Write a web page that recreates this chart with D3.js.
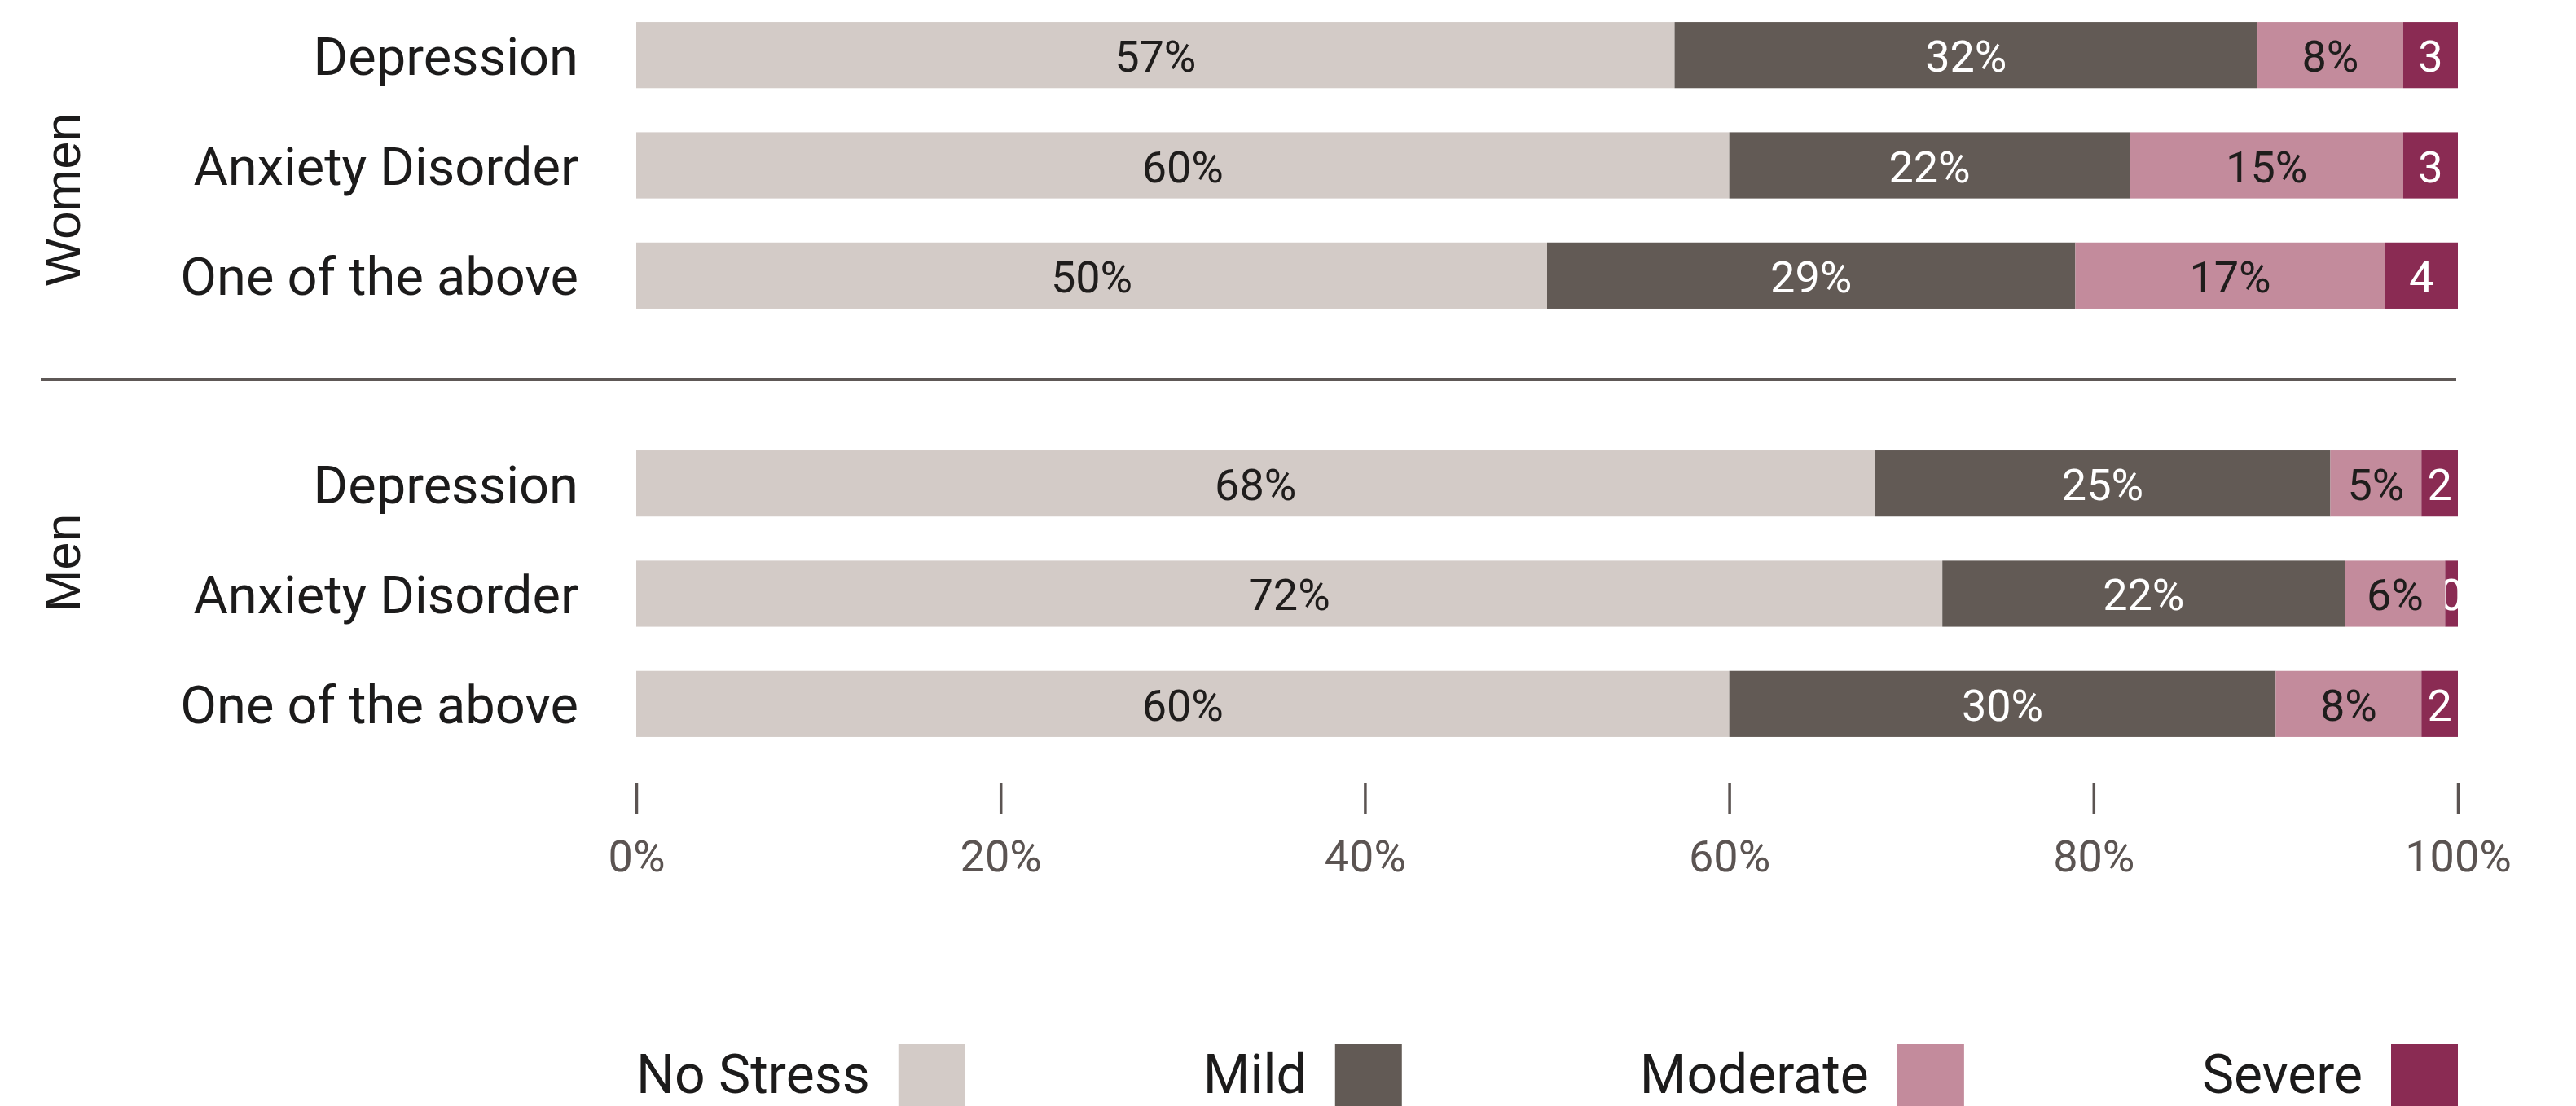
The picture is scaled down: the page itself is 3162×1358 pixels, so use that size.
<!DOCTYPE html>
<html>
<head>
<meta charset="utf-8">
<script src="https://cdn.jsdelivr.net/npm/d3@7"></script>
<style>
  html, body { margin: 0; padding: 0; background: #fff; }
  svg { display: block; }
</style>
</head>
<body>
<div id="chart"></div>
<script>
const groups = ['Women', 'Men']
const conditions = ['Depression', 'Anxiety Disorder', 'One of the above']
const levels = ['No Stress', 'Mild', 'Moderate', 'Severe']

// one value per row: Women x3, then Men x3
const noStress = [57, 60, 50, 68, 71.7, 60]
const mild = [32, 22, 29, 25, 22.1, 30]
const moderate = [8, 15, 17, 5, 5.5, 8]
const severe = [3, 3, 4, 2, 0.7, 2]

const tickValues = [0, 20, 40, 60, 80, 100]

const colors = ['#d3cbc7', '#625a55', '#c38b9c', '#8a2b53']
const labelColors = ['#1f1d1c', '#ffffff', '#1f1d1c', '#ffffff']

const width = 3162
const height = 1358

const rows = []
groups.forEach((g, gi) => {
  conditions.forEach((c, ci) => {
    const i = gi * conditions.length + ci
    rows.push({
      group: g,
      condition: c,
      'No Stress': noStress[i],
      Mild: mild[i],
      Moderate: moderate[i],
      Severe: severe[i],
    })
  })
})

const svg = d3
  .select('#chart')
  .append('svg')
  .attr('width', width)
  .attr('height', height)

const x = d3.scaleLinear().domain([0, 100]).range([781, 3017])

const outer = d3
  .scaleBand()
  .domain(groups)
  .range([0, 932])
  .paddingInner(0.228)

const inner = d3
  .scaleBand()
  .domain(conditions)
  .range([0, outer.bandwidth()])
  .paddingInner(0.4)
  .paddingOuter(0.2)

const rowY = d => outer(d.group) + inner(d.condition)

const series = d3.stack().keys(levels)(rows)

// segment labels: percent for the first three levels, bare number for severe
const labelText = (v, li) => (li < 3 ? `${Math.round(v)}%` : `${Math.floor(v)}`)

const defs = svg.append('defs')

series.forEach((s, li) => {
  const layer = svg.append('g').attr('class', 'layer')

  layer
    .selectAll('rect')
    .data(s)
    .join('rect')
    .attr('x', d => x(d[0]))
    .attr('y', d => rowY(d.data))
    .attr('width', d => x(d[1]) - x(d[0]))
    .attr('height', inner.bandwidth())
    .attr('fill', colors[li])

  s.forEach((d, ri) => {
    const id = `clip-${li}-${ri}`
    defs
      .append('clipPath')
      .attr('id', id)
      .append('rect')
      .attr('x', x(d[0]))
      .attr('y', rowY(d.data))
      .attr('width', x(d[1]) - x(d[0]))
      .attr('height', inner.bandwidth())

    layer
      .append('text')
      .attr('clip-path', `url(#${id})`)
      .attr('x', (x(d[0]) + x(d[1])) / 2)
      .attr('y', rowY(d.data) + inner.bandwidth() / 2)
      .attr('dy', '0.38em')
      .attr('text-anchor', 'middle')
      .attr('font-family', 'Roboto')
      .attr('font-size', 54)
      .attr('fill', labelColors[li])
      .text(labelText(d[1] - d[0], li))
  })
})

// condition labels
svg
  .append('g')
  .selectAll('text')
  .data(rows)
  .join('text')
  .attr('x', 710)
  .attr('y', d => rowY(d) + inner.bandwidth() / 2)
  .attr('dy', '0.37em')
  .attr('text-anchor', 'end')
  .attr('font-family', 'Roboto')
  .attr('font-size', 65)
  .attr('fill', '#1c1b1b')
  .text(d => d.condition)

// group labels, rotated
const groupShift = [42, -38]
svg
  .append('g')
  .selectAll('text')
  .data(groups)
  .join('text')
  .attr(
    'transform',
    (g, i) =>
      `translate(98,${outer(g) + outer.bandwidth() / 2 + groupShift[i]}) rotate(-90)`,
  )
  .attr('text-anchor', 'middle')
  .attr('font-family', 'Liberation Sans')
  .attr('font-size', 62)
  .attr('fill', '#1c1b1b')
  .text(g => g)

// separator between the groups
const sepY = (outer(groups[0]) + outer.bandwidth() + outer(groups[1])) / 2
svg
  .append('line')
  .attr('x1', 50)
  .attr('x2', 3015)
  .attr('y1', sepY)
  .attr('y2', sepY)
  .attr('stroke', '#5e5856')
  .attr('stroke-width', 4)

// x axis
const axis = svg
  .append('g')
  .attr('transform', 'translate(0,961)')
  .call(
    d3
      .axisBottom(x)
      .tickValues(tickValues)
      .tickFormat(d => d + '%')
      .tickSize(39)
      .tickPadding(32),
  )
axis.select('.domain').remove()
axis.selectAll('.tick line').attr('stroke', '#5b5452').attr('stroke-width', 3.5)
axis
  .selectAll('.tick text')
  .attr('fill', '#5b5452')
  .attr('font-family', 'Roboto')
  .attr('font-size', 54)

// legend, spread across the axis width with equal gaps
const swatch = 82
const swatchGap = 35
const legend = svg.append('g')
const items = levels.map((l, i) => {
  const g = legend.append('g')
  const t = g
    .append('text')
    .attr('y', 1342)
    .attr('font-family', 'Roboto')
    .attr('font-size', 66)
    .attr('fill', '#1c1b1b')
    .text(l)
  const tw = t.node().getComputedTextLength()
  g.append('rect')
    .attr('x', tw + swatchGap)
    .attr('y', 1282)
    .attr('width', swatch)
    .attr('height', swatch)
    .attr('fill', colors[i])
  return { g, w: tw + swatchGap + swatch }
})
const totalW = d3.sum(items, d => d.w)
const gap = (x(100) - x(0) - totalW) / (items.length - 1)
let cursor = x(0)
items.forEach(it => {
  it.g.attr('transform', `translate(${cursor},0)`)
  cursor += it.w + gap
})
</script>
</body>
</html>
